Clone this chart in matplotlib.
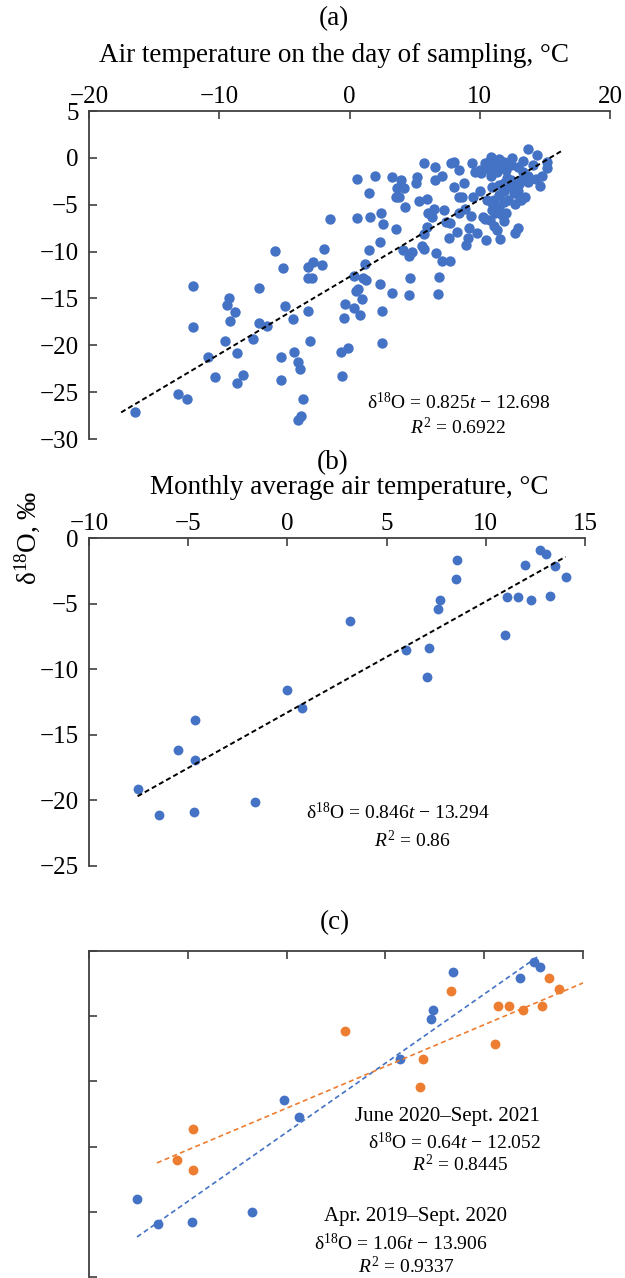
import matplotlib
matplotlib.use("Agg")
import matplotlib.pyplot as plt
import numpy as np

plt.rcParams['font.family'] = ['Liberation Serif', 'DejaVu Serif']
plt.rcParams['mathtext.fontset'] = 'custom'
plt.rcParams['mathtext.rm'] = 'Liberation Serif'
plt.rcParams['mathtext.it'] = 'Liberation Serif:italic'
plt.rcParams['mathtext.bf'] = 'Liberation Serif:bold'
plt.rcParams['axes.unicode_minus'] = True

# ---------------- data ----------------
# (a) air temperature on the day of sampling vs d18O
a_temp = [-16.43, -13.2, -12.49, -11.98, -11.98, -10.87, -10.34, -9.55, -9.4, -9.23,
          -8.78, -9.2, -8.6, -8.6, -8.17, -7.38, -6.98, -6.96, -6.3, -5.69,
          -5.08, -4.95, -4.34, -5.26, -5.26, -4.23, -3.94, -3.8, -3.6, -3.73,
          -3.94, -3.15, -3.04, -3.15, -2.8, -3.15, -2.9, -2.14, -1.93, -1.5,
          -0.63, -0.13, -0.61, -0.45, -0.32, 0.37, 0.82, 0.98, 0.5, 0.66,
          0.37, 1.03, 1.3, 1.16, 1.46, 0.56, 0.56, 1.48, 1.59, 1.98,
          2.35, 2.4, 2.54, 2.38, 2.51, 2.49, 3.28, 3.28, 3.57, 4.07,
          3.94, 3.62, 4.2, 3.55, 3.8, 4.28, 4.55, 4.81, 4.68, 4.58,
          5.13, 5.2, 5.32, 5.56, 5.71, 5.74, 5.98, 5.74, 5.92, 6.06,
          6.3, 6.46, 6.58, 6.58, 7.1, 6.64, 6.77, 6.85, 7.1, 7.75,
          7.25, 7.38, 7.7, 7.64, 7.78, 8.05, 8.01, 8.38, 8.28, 8.44,
          8.65, 8.78, 8.44, 8.9, 8.95, 9.1, 9.15, 9.36, 9.76, 9.44,
          9.5, 10.0, 10.24, 10.5, 10.56, 10.82, 11.08, 11.35, 11.56, 10.95,
          11.48, 12.0, 12.14, 12.67, 12.94, 12.72, 13.2, 13.45, 12.94, 11.88,
          11.48, 11.08, 12.4, 13.2, 13.7, 14.6, 14.3, 14.8, 15.2, 15.2,
          14.4, 13.7, 14.1, 13.3, 12.5, 11.9, 11.5, 10.85, 10.4, 10.0,
          9.6, 10.85, 11.35, 12.0, 12.4, 12.9, 12.1, 12.6, 11.9, 11.2,
          10.55, 11.6, 10.1, 10.7, 11.1, 13.3, 13.0, 13.7, 12.5, 11.9,
          10.95, 11.5, 11.7, 10.95, 10.4, 11.9, 13.1]
a_d18o = [-27.16, -25.2, -25.74, -13.7, -18.1, -21.3, -23.4, -19.5, -15.7, -15.0,
          -16.5, -17.4, -20.8, -24.0, -23.2, -19.3, -13.9, -17.6, -17.9, -9.9,
          -11.8, -15.8, -17.2, -21.2, -23.7, -20.7, -21.8, -22.5, -25.7, -27.5,
          -28.0, -16.3, -19.5, -11.6, -11.1, -12.8, -12.8, -11.4, -9.7, -6.5,
          -20.7, -20.3, -23.3, -17.1, -15.6, -16.0, -16.8, -15.1, -14.2, -14.0,
          -12.6, -12.8, -13.0, -11.3, -9.8, -2.3, -6.4, -3.7, -6.3, -1.9,
          -9.0, -5.9, -7.1, -13.5, -16.3, -19.8, -14.4, -2.0, -7.6, -9.8,
          -2.4, -3.2, -3.2, -4.2, -4.2, -5.2, -10.5, -10.0, -12.8, -14.6,
          -2.7, -2.0, -4.6, -9.4, -9.7, -0.5, -4.4, -8.1, -7.4, -5.9,
          -6.3, -5.5, -1.0, -2.4, -1.9, -10.2, -14.5, -12.7, -11.0, -11.0,
          -5.6, -6.8, -7.0, -8.6, -0.6, -0.4, -3.1, -1.3, -7.9, -4.2,
          -4.2, -2.7, -5.9, -5.5, -9.3, -8.5, -7.5, -6.2, -8.0, -0.5,
          -4.2, -3.5, -6.3, -8.8, -4.5, -6.6, -7.3, -7.7, -8.7, -5.6,
          -5.2, -5.9, -4.5, -8.0, -7.5, -4.9, -4.5, -4.2, -3.5, -3.5,
          -4.0, -4.5, -2.4, -2.4, -1.9, -3.0, -2.3, -1.9, -1.1, -0.4,
          0.3, 0.9, -0.8, -0.3, 0.0, -0.4, -0.1, 0.1, -0.6, -1.3,
          -1.5, -1.9, -1.5, -1.3, -0.8, -1.0, -2.2, -3.8, -4.7, -5.9,
          -0.6, -1.0, -1.6, -1.2, -0.8, -1.5, -2.8, -2.6, -3.1, -2.7,
          -3.1, -2.9, -6.1, -4.8, -6.5, -6.7, -4.2]
a_slope, a_intercept, a_r2 = 0.825, -12.698, 0.6922

# (b) monthly average air temperature vs d18O
b_temp = [-7.55, -6.48, -4.69, -4.65, -5.49, -4.65, -1.65, 0.0, 0.76, 3.16,
          5.97, 7.14, 7.05, 7.6, 7.69, 8.52, 8.55, 10.95, 11.06, 11.63,
          12.29, 13.25, 12.0, 13.5, 14.02, 12.74, 13.04]
b_d18o = [-19.16, -21.09, -20.92, -16.92, -16.13, -13.86, -20.13, -11.62, -12.95, -6.32,
          -8.54, -8.41, -10.6, -5.41, -4.75, -3.12, -1.68, -7.42, -4.49, -4.49,
          -4.75, -4.44, -2.05, -2.13, -2.97, -0.89, -1.22]
b_slope, b_intercept, b_r2 = 0.846, -13.294, 0.86

# (c) two periods
c1_label = "Apr. 2019–Sept. 2020"
c1_temp = [-7.57, -6.51, -4.77, -1.77, -0.14, 0.61, 5.73, 7.31, 7.40, 8.41, 11.8, 12.53, 12.8]
c1_d18o = [-18.99, -20.96, -20.78, -20.03, -11.44, -12.73, -8.31, -5.21, -4.51, -1.6, -2.04, -0.83, -1.21]
c1_slope, c1_intercept, c1_r2 = 1.06, -13.906, 0.9337

c2_label = "June 2020–Sept. 2021"
c2_temp = [-5.56, -4.72, -4.72, 2.95, 6.77, 6.88, 8.33, 10.57, 10.71, 11.28, 11.94, 12.9, 13.3, 13.8]
c2_d18o = [-15.99, -13.64, -16.79, -6.11, -10.4, -8.26, -3.1, -7.15, -4.25, -4.25, -4.51, -4.2, -2.07, -2.9]
c2_slope, c2_intercept, c2_r2 = 0.64, -12.052, 0.8445

# ---------------- style ----------------
W, H = 625, 1278
BLUE = '#4472C4'
ORANGE = '#ED7D31'
SPINE = '#404040'
TICK_FS = 18
TITLE_FS = 19.5
EQ_FS = 14
LBL_FS = 15

fig = plt.figure(figsize=(W / 100, H / 100), dpi=100)


def box(left, right, top, bottom):
    return [left / W, 1 - bottom / H, (right - left) / W, (bottom - top) / H]


def ftext(x, y, s, **kw):
    fig.text(x / W, 1 - y / H, s, ha='center', va='center', **kw)


def style(ax, labels=True):
    for side in ('right', 'bottom'):
        ax.spines[side].set_visible(False)
    for side in ('left', 'top'):
        ax.spines[side].set_color(SPINE)
        ax.spines[side].set_linewidth(1.3)
    ax.xaxis.set_ticks_position('top')
    ax.tick_params(axis='both', direction='in', length=6, width=1.2,
                   color=SPINE, labelsize=TICK_FS)
    ax.tick_params(axis='x', top=True, bottom=False, labeltop=labels,
                   labelbottom=False, pad=2.5)
    ax.tick_params(axis='y', left=True, right=False, labelleft=labels, pad=7.5)
    ax.set_facecolor('none')


def trend(ax, t, slope, intercept, ext_lo, ext_hi, **kw):
    x = np.array([min(t) - ext_lo, max(t) + ext_hi])
    ax.plot(x, slope * x + intercept, **kw)


# ---- (a)
ax_a = fig.add_axes(box(89, 610, 111, 439))
ax_a.scatter(a_temp, a_d18o, s=56, color=BLUE, linewidths=0, zorder=3)
trend(ax_a, a_temp, a_slope, a_intercept, 1.1, 1.1, color='black', lw=1.4,
      dashes=(2.6, 1.6), zorder=4)
ax_a.set_xlim(-20, 20)
ax_a.set_ylim(-30, 5)
ax_a.set_xticks(np.arange(-20, 21, 10))
ax_a.set_yticks(np.arange(-30, 6, 5))
style(ax_a)

# ---- (b)
ax_b = fig.add_axes(box(89, 585, 538, 866))
ax_b.scatter(b_temp, b_d18o, s=50, color=BLUE, linewidths=0, zorder=3)
trend(ax_b, b_temp, b_slope, b_intercept, 0, 0, color='black', lw=1.4,
      dashes=(2.6, 1.6), zorder=4)
ax_b.set_xlim(-10, 15)
ax_b.set_ylim(-25, 0)
ax_b.set_xticks(np.arange(-10, 16, 5))
ax_b.set_yticks(np.arange(-25, 1, 5))
style(ax_b)

# ---- (c)
ax_c = fig.add_axes(box(89, 583, 951, 1277))
ax_c.scatter(c1_temp, c1_d18o, s=50, color=BLUE, linewidths=0, zorder=3)
ax_c.scatter(c2_temp, c2_d18o, s=50, color=ORANGE, linewidths=0, zorder=3)
trend(ax_c, c1_temp, c1_slope, c1_intercept, 0, 0, color=BLUE, lw=1.2,
      dashes=(3, 2), zorder=4)
trend(ax_c, c2_temp, c2_slope, c2_intercept, 1.0, 1.2, color=ORANGE, lw=1.2,
      dashes=(3, 2), zorder=4)
ax_c.set_xlim(-10, 15)
ax_c.set_ylim(-25, 0)
ax_c.set_xticks(np.arange(-10, 16, 5))
ax_c.set_yticks(np.arange(-25, 1, 5))
style(ax_c, labels=False)


def eq(slope, intercept, nd):
    return "δ$^{18}$O = " + f"{slope:g}" + "$\\mathit{t}$ − " + f"{abs(intercept):.{nd}f}"


# ---- texts
ftext(334, 19, "(a)", fontsize=TITLE_FS)
ftext(334, 56, "Air temperature on the day of sampling, °C", fontsize=TITLE_FS)
ftext(333, 463, "(b)", fontsize=TITLE_FS)
ftext(349, 487, "Monthly average air temperature, °C", fontsize=TITLE_FS)
ftext(335, 923, "(c)", fontsize=TITLE_FS)
ftext(27, 538, "δ$^{18}$O, ‰", fontsize=TITLE_FS, rotation=90)

ftext(459, 403, eq(a_slope, a_intercept, 3), fontsize=EQ_FS)
ftext(458, 428, "$R^2$ = " + f"{a_r2:g}", fontsize=EQ_FS)
ftext(398, 813, eq(b_slope, b_intercept, 3), fontsize=EQ_FS)
ftext(412, 841, "$R^2$ = " + f"{b_r2:g}", fontsize=EQ_FS)

ftext(447, 1117, c2_label, fontsize=LBL_FS)
ftext(455, 1143, eq(c2_slope, c2_intercept, 3), fontsize=EQ_FS)
ftext(460, 1165, "$R^2$ = " + f"{c2_r2:g}", fontsize=EQ_FS)
ftext(416, 1217, c1_label, fontsize=LBL_FS)
ftext(401, 1243, eq(c1_slope, c1_intercept, 3), fontsize=EQ_FS)
ftext(406, 1267, "$R^2$ = " + f"{c1_r2:g}", fontsize=EQ_FS)

fig.savefig("out.png", dpi=100)
